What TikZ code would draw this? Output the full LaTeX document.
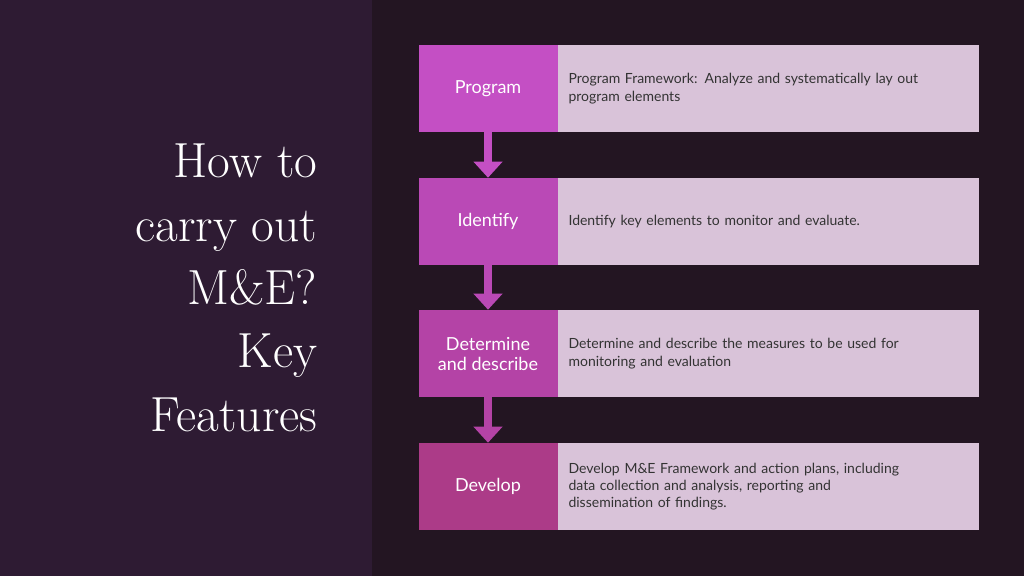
\documentclass[tikz,border=0pt]{standalone}
\usepackage{fontspec}
\setmainfont{Lato}
\newfontfamily\titlefont{Latin Modern Roman}
\usetikzlibrary{positioning,arrows.meta}
\definecolor{leftbg}{HTML}{2E1B33}
\definecolor{rightbg}{HTML}{231522}
\definecolor{descfill}{HTML}{D9C3D9}
\definecolor{labone}{HTML}{C44FC4}
\definecolor{labtwo}{HTML}{BA49B6}
\definecolor{labthree}{HTML}{B443A6}
\definecolor{labfour}{HTML}{AC3B88}
\tikzset{
  lab/.style={rectangle, minimum width=104.25pt, minimum height=65.25pt, inner sep=0pt,
              text=white, font=\fontsize{13.5}{15}\selectfont, align=center},
  desc/.style={rectangle, fill=descfill, minimum width=315.75pt, minimum height=65.25pt,
               inner sep=0pt, text width=300pt, align=left, text=black!80,
               font=\fontsize{10.5}{13}\selectfont},
  flow/.style={-{Triangle[width=21pt,length=12pt]}, line width=6pt, color=labone}
}
\begin{document}
\begin{tikzpicture}[x=0.75pt,y=-0.75pt]
  \fill[rightbg] (0,0) rectangle (1024,576);
  \fill[leftbg] (0,0) rectangle (372,576);
  \useasboundingbox (0,0) rectangle (1024,576);

  %% title
  \node (title) [anchor=east, align=right, text=white,
        font=\titlefont\fontsize{37}{47.5}\selectfont] at (322,288)
        {How to\\ carry out\\ M\&E?\\ Key\\ Features};

  %% steps
  \node (program) [lab, fill=labone] at (488,88.5) {Program};
  \node (programd) [desc, right=0pt of program] {Program Framework: Analyze and systematically lay out\\ program elements};
  \node (identify) [lab, fill=labtwo] at (488,221.5) {Identify};
  \node (identifyd) [desc, right=0pt of identify] {Identify key elements to monitor and evaluate.};
  \node (determine) [lab, fill=labthree] at (488,353.5) {Determine\\ and describe};
  \node (determined) [desc, right=0pt of determine] {Determine and describe the measures to be used for\\ monitoring and evaluation};
  \node (develop) [lab, fill=labfour] at (488,486.5) {Develop};
  \node (developd) [desc, right=0pt of develop] {Develop M\&E Framework and action plans, including\\ data collection and analysis, reporting and\\ dissemination of findings.};

  %% arrows
  \draw [flow] (program.south) to (identify.north);
  \draw [flow, color=labtwo] (identify.south) to (determine.north);
  \draw [flow, color=labthree] (determine.south) to (develop.north);
\end{tikzpicture}
\end{document}
